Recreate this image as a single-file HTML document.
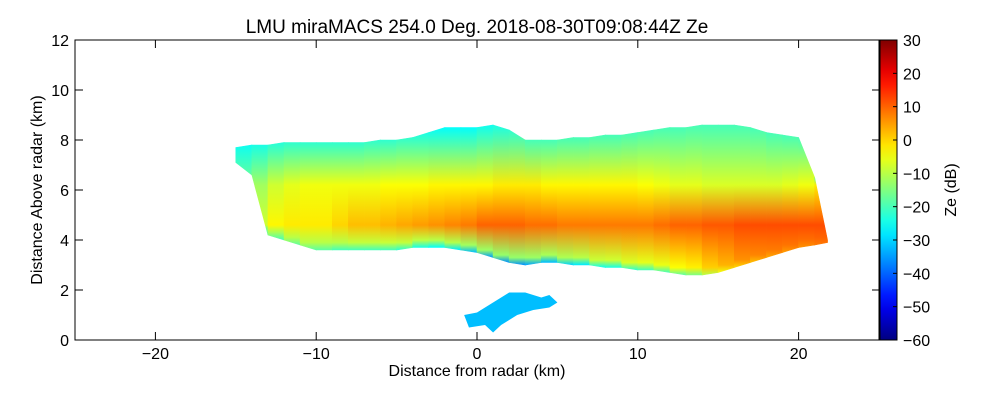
<!DOCTYPE html>
<html><head><meta charset="utf-8"><style>
body{margin:0;background:#fff;}
svg text{font-family:"Liberation Sans","DejaVu Sans",sans-serif;fill:#000;}
</style></head><body>
<svg id="chart" width="1000" height="400" xmlns="http://www.w3.org/2000/svg">
<defs id="defs"></defs>
<rect x="0" y="0" width="1000" height="400" fill="#fff"/>
<g id="cloud"></g>
<g id="axes"></g>
<g id="cbar"></g>
<text x="477" y="33" font-size="19" text-anchor="middle">LMU miraMACS 254.0 Deg. 2018-08-30T09:08:44Z  Ze</text>
<text x="477" y="376" font-size="16" text-anchor="middle">Distance from radar (km)</text>
<text transform="translate(42,190) rotate(-90)" font-size="16" text-anchor="middle">Distance Above radar  (km)</text>
<text transform="translate(956,190) rotate(-90)" font-size="16" text-anchor="middle">Ze (dB)</text>
</svg>
<script>
const xs=[-15,-14,-13,-12,-11,-10,-9,-8,-7,-6,-5,-4,-3,-2,-1,0,1,2,3,4,5,6,7,8,9,10,11,12,13,14,15,16,17,18,19,20,21,21.8];
const tops=[7.7,7.8,7.8,7.9,7.9,7.9,7.9,7.9,7.9,8.0,8.0,8.1,8.3,8.5,8.5,8.5,8.6,8.4,8.0,8.0,8.0,8.1,8.1,8.2,8.2,8.3,8.4,8.5,8.5,8.6,8.6,8.6,8.5,8.3,8.2,8.1,6.5,4.0];
const bottoms=[7.1,6.6,4.2,4.0,3.8,3.6,3.6,3.6,3.6,3.6,3.6,3.7,3.7,3.7,3.6,3.5,3.3,3.1,3.0,3.1,3.1,3.0,3.0,2.9,2.9,2.8,2.8,2.7,2.6,2.6,2.7,2.9,3.1,3.3,3.5,3.7,3.8,3.9];
const zeTop=[-25,-24,-23,-22,-22,-22,-22,-22,-22,-22,-22,-24,-26,-26,-26,-25,-24,-22,-20,-20,-20,-20,-20,-20,-20,-20,-20,-20,-20,-20,-20,-20,-20,-20,-20,-20,-18,-10];
const zeMid=[-18,-12,-8,-6,-5,-5,-5,-5,-5,-4,-4,-4,-3,-3,-3,-3,-2,-2,-2,-3,-3,-3,-3,-3,-3,-4,-5,-6,-6,-7,-7,-7,-7,-7,-6,-5,-2,5];
const zeCore=[-15,-8,-3,-2,-2,-2,0,2,2,3,4,5,6,7,8,10,10,10,9,9,8,8,8,8,8,8,9,10,10,11,11,12,12,12,12,12,12,12];
const zeBottom=[-20,-20,-20,-18,-18,-18,-20,-20,-20,-20,-22,-24,-26,-28,-32,-35,-36,-36,-34,-32,-30,-28,-25,-24,-22,-20,-20,-18,-15,-10,-5,0,2,4,5,6,8,8];
const xTicks=[-20,-10,0,10,20];
const yTicks=[0,2,4,6,8,10,12];
const cTicks=[-60,-50,-40,-30,-20,-10,0,10,20,30];
const lowBlobX=[-0.8,0,1,2,3,4,4.5,5,4.5,3.5,2.5,1.5,1,0.5,-0.5,-0.8];
const lowBlobY=[1.0,1.1,1.5,1.9,1.9,1.7,1.8,1.5,1.3,1.2,1.0,0.6,0.3,0.6,0.5,1.0];
const X=v=>477+v*16.08, Y=v=>340-v*25;
const NS="http://www.w3.org/2000/svg";
function jet(v){const t=Math.max(0,Math.min(1,(v+60)/90));
 const r=Math.max(0,Math.min(1,1.5-Math.abs(4*t-3))),g=Math.max(0,Math.min(1,1.5-Math.abs(4*t-2))),b=Math.max(0,Math.min(1,1.5-Math.abs(4*t-1)));
 return `rgb(${Math.round(r*255)},${Math.round(g*255)},${Math.round(b*255)})`;}
function el(t,a,p){const e=document.createElementNS(NS,t);for(const k in a)e.setAttribute(k,a[k]);p.appendChild(e);return e;}
const defs=document.getElementById('defs'),cloud=document.getElementById('cloud'),axes=document.getElementById('axes'),cbar=document.getElementById('cbar');
for(let i=0;i<xs.length-1;i++){
 const top=Math.max(tops[i],tops[i+1]),bot=Math.min(bottoms[i],bottoms[i+1]);
 const gid='g'+i;const g=el('linearGradient',{id:gid,x1:0,y1:0,x2:0,y2:1},defs);
 const f=h=>Math.max(0,Math.min(1,(top-h)/(top-bot)));
 const stops=[[0,zeTop[i]],[f(6.2),zeMid[i]],[f(4.6),zeCore[i]],[f(bot+0.3),(zeCore[i]+zeBottom[i])/2],[1,zeBottom[i]]];
 stops.forEach(s=>el('stop',{offset:s[0],'stop-color':jet(s[1])},g));
 const p=el('polygon',{points:`${X(xs[i])},${Y(tops[i])} ${X(xs[i+1])},${Y(tops[i+1])} ${X(xs[i+1])},${Y(bottoms[i+1])} ${X(xs[i])},${Y(bottoms[i])}`,fill:`url(#${gid})`,stroke:`url(#${gid})`,'stroke-width':0.6},cloud);
 
 
}
const blob=el('polygon',{points:lowBlobX.map((v,i)=>X(v)+','+Y(lowBlobY[i])).join(' '),fill:jet(-32)},cloud);


const fr=el('rect',{x:X(-25),y:Y(12),width:X(25)-X(-25),height:300,fill:'none',stroke:'#000','stroke-width':1},axes);


xTicks.forEach(v=>{el('line',{x1:X(v),x2:X(v),y1:340,y2:332,stroke:'#000'},axes);el('line',{x1:X(v),x2:X(v),y1:40,y2:48,stroke:'#000'},axes);
 const t=el('text',{x:X(v),y:359,'font-size':16,'text-anchor':'middle'},axes);t.textContent=(v<0?'\u2212'+(-v):v);
 
 });
yTicks.forEach(v=>{el('line',{x1:75,x2:83,y1:Y(v),y2:Y(v),stroke:'#000'},axes);el('line',{x1:872,x2:880,y1:Y(v),y2:Y(v),stroke:'#000'},axes);
 const t=el('text',{x:69,y:Y(v)+6,'font-size':16,'text-anchor':'end'},axes);t.textContent=v;
 
 });
const cg=el('linearGradient',{id:'cg',x1:0,y1:1,x2:0,y2:0},defs);
for(let k=0;k<=20;k++)el('stop',{offset:k/20,'stop-color':jet(-60+90*k/20)},cg);
const cr=el('rect',{x:880,y:40,width:17,height:300,fill:'url(#cg)',stroke:'#000'},cbar);


const C=v=>340-(v+60)/90*300;
cTicks.forEach(v=>{el('line',{x1:893,x2:897,y1:C(v),y2:C(v),stroke:'#000'},cbar);
 const t=el('text',{x:903,y:C(v)+6,'font-size':16},cbar);t.textContent=(v<0?'\u2212'+(-v):v);
 
 });
</script>
</body></html>
